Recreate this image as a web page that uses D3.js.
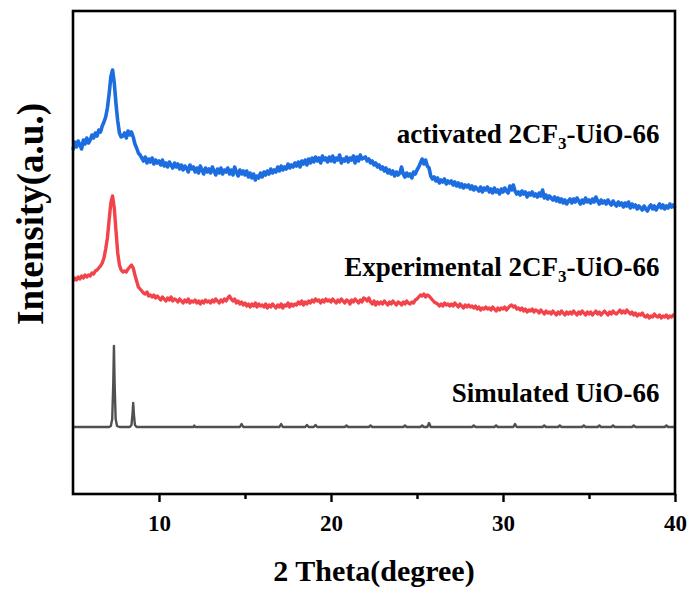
<!DOCTYPE html>
<meta charset="utf-8">
<style>
body { margin: 0; background: #fff; }
text { font-family: "Liberation Serif", "Times New Roman", serif; font-weight: bold; fill: #000; }
.frame { fill: none; stroke: #000; stroke-width: 2.6px; }
.axis path { display: none; }
.axis line { stroke: #000; stroke-width: 2.4px; }
.axis text { font-size: 23px; }
.trace { fill: none; stroke-linejoin: round; }
</style>
<svg width="691" height="590"></svg>
<script src="https://d3js.org/d3.v7.min.js"></script>
<script>
// 2theta grid of the measured patterns: 5 to 40 deg, 0.1 deg step
var twoTheta = d3.range(0, 351).map(function(i) { return +(5 + i * 0.1).toFixed(1); });

// activated 2CF3-UiO-66 (offset intensity, a.u.)
var activated = [
  344,352,347,353,349,345,354,350,356,351,
  354,359,356,361,358,364,362,368,372,377,
  386,400,417,424,411,390,373,361,357,358,
  361,356,363,359,362,357,350,346,341,339,
  336,333,337,331,335,332,336,330,334,331,
  333,329,334,328,331,327,332,329,326,331,
  327,330,325,329,324,328,326,322,329,325,
  327,322,326,321,328,324,320,326,322,325,
  321,327,323,319,325,321,326,320,324,322,
  326,320,324,319,327,322,318,324,320,323,
  319,323,317,321,316,320,314,318,316,321,
  317,322,319,323,320,325,321,324,322,327,
  323,328,324,327,325,330,326,329,327,331,
  328,332,327,333,330,334,329,335,331,336,
  332,337,333,336,331,338,334,336,332,337,
  333,338,332,336,334,339,331,335,333,337,
  332,336,334,338,331,337,333,339,335,336,
  337,333,335,331,333,329,331,327,329,325,
  327,323,326,321,324,320,323,318,322,319,
  321,327,320,317,321,318,320,316,322,320,
  324,327,331,335,330,334,328,326,318,315,
  317,313,316,311,314,312,315,310,313,311,
  313,309,312,308,311,307,310,306,309,307,
  309,305,308,304,307,305,303,307,302,306,
  304,307,302,305,301,306,302,304,300,305,
  302,306,303,301,308,304,309,303,300,302,
  299,303,300,302,297,301,299,302,298,300,
  297,301,298,304,296,299,295,298,296,294,
  297,293,296,292,295,291,294,290,293,295,
  291,295,292,296,293,290,294,291,296,292,
  294,291,295,292,297,293,290,294,291,293,
  290,294,291,289,293,290,288,292,289,291,
  287,291,288,292,286,290,287,289,285,288,
  286,284,288,285,283,287,289,285,288,284,
  287,290,286,289,285,288,286,290,287,289,
  286
];

// Experimental 2CF3-UiO-66
var experimental = [
  213,216,214,217,215,218,216,219,217,219,
  218,221,220,223,224,226,228,231,236,245,
  256,274,291,298,286,263,241,229,224,222,
  223,222,225,227,229,226,219,213,207,205,
  203,201,200,202,198,199,197,199,196,198,
  196,194,197,195,193,196,194,197,193,195,
  194,192,195,193,191,194,192,195,191,193,
  192,194,191,193,190,193,191,194,192,193,
  191,194,192,195,193,191,194,192,195,193,
  196,198,195,193,195,191,193,190,192,189,
  191,188,190,187,190,188,191,187,190,188,
  189,187,190,186,189,187,190,188,186,189,
  187,190,186,189,188,191,187,190,188,190,
  189,192,190,193,189,192,190,193,191,194,
  192,195,193,194,191,194,192,195,193,194,
  192,195,193,191,194,192,195,193,191,194,
  193,190,194,192,195,193,191,194,192,196,
  195,193,196,192,190,193,189,192,190,192,
  190,193,191,189,192,190,193,191,189,192,
  191,189,192,190,193,191,190,192,191,194,
  195,197,199,198,200,197,199,198,196,194,
  192,191,190,188,190,188,191,189,190,188,
  190,188,191,189,187,190,188,186,189,187,
  189,187,188,186,188,185,187,184,186,185,
  187,185,186,184,187,185,183,186,184,186,
  185,187,184,186,188,189,187,188,185,186,
  184,186,183,185,182,184,183,185,182,184,
  183,181,184,182,180,183,181,182,180,183,
  181,179,182,180,183,181,179,182,180,182,
  180,183,181,179,182,180,183,181,179,182,
  180,182,179,181,183,180,182,179,181,183,
  181,179,182,180,183,181,180,182,184,181,
  183,181,184,182,180,182,179,181,178,180,
  179,181,178,177,179,176,178,177,180,178,
  177,179,176,178,177,179,176,178,177,179,
  178
];

// Simulated UiO-66: [2theta, intensity]
var simulated = [
  [5,67],[7.1,67],[7.2,68],[7.28,75],[7.34,110],[7.38,148],[7.42,110],[7.48,75],[7.56,68],[7.7,67],
  [8.3,67],[8.4,69],[8.46,80],[8.5,91],[8.54,80],[8.6,69],[8.7,67],
  [12.0,67],[12.05,68.5],[12.1,67],[14.7,67],[14.8,70],[14.9,67],[17.0,67],[17.1,70],[17.2,67],
  [18.5,67],[18.6,69],[18.7,67],[19.0,67],[19.1,69],[19.2,67],[20.8,67],[20.9,68.5],[21.0,67],
  [22.2,67],[22.3,68.5],[22.4,67],[24.2,67],[24.3,68.5],[24.4,67],[25.2,67],[25.3,68.5],[25.4,67],
  [25.6,67],[25.7,71],[25.8,67],[28.2,67],[28.3,68.5],[28.4,67],[29.5,67],[29.6,68.5],[29.7,67],
  [30.6,67],[30.7,70],[30.8,67],[32.3,67],[32.4,68.5],[32.5,67],[33.2,67],[33.3,68.5],[33.4,67],
  [34.6,67],[34.7,68.5],[34.8,67],[35.5,67],[35.6,68.5],[35.7,67],[36.3,67],[36.4,68.5],[36.5,67],
  [37.5,67],[37.6,68.5],[37.7,67],[39.4,67],[39.5,68.5],[39.6,67],[40,67]
];

var majorTicks = [10, 20, 30, 40];
var minorTicks = [15, 25, 35];

var labels = [
  { name: "activated 2CF", sub: "3", rest: "-UiO-66", y: 351 },
  { name: "Experimental 2CF", sub: "3", rest: "-UiO-66", y: 218 },
  { name: "Simulated UiO-66", sub: "", rest: "", y: 92 }
];

var svg = d3.select("svg");
var plotLeft = 73, plotRight = 675, plotTop = 11, plotBottom = 494;

var x = d3.scaleLinear().domain([5, 40]).range([plotLeft, plotRight]);
var y = d3.scaleLinear().domain([0, 483]).range([plotBottom, plotTop]);

var line = d3.line()
    .x(function(d) { return x(d[0]); })
    .y(function(d) { return y(d[1]); });

function pairs(vals) {
  return vals.map(function(v, i) { return [twoTheta[i], v]; });
}

svg.append("path").attr("class", "trace")
    .attr("d", line(simulated))
    .attr("stroke", "#505050").attr("stroke-width", 2.4);
svg.append("path").attr("class", "trace")
    .attr("d", line(pairs(experimental)))
    .attr("stroke", "#f2424a").attr("stroke-width", 3.4);
svg.append("path").attr("class", "trace")
    .attr("d", line(pairs(activated)))
    .attr("stroke", "#1c6ddf").attr("stroke-width", 3.6);

// frame
svg.append("rect").attr("class", "frame")
    .attr("x", plotLeft).attr("y", plotTop)
    .attr("width", plotRight - plotLeft).attr("height", plotBottom - plotTop);

// x axis
svg.append("g").attr("class", "axis")
    .attr("transform", "translate(0," + plotBottom + ")")
    .call(d3.axisBottom(x).tickValues(majorTicks).tickSize(8).tickPadding(13).tickFormat(d3.format("d")));
svg.append("g").attr("class", "axis")
    .attr("transform", "translate(0," + plotBottom + ")")
    .call(d3.axisBottom(x).tickValues(minorTicks).tickSize(5).tickFormat(""));

// axis titles
svg.append("text")
    .attr("x", (plotLeft + plotRight) / 2).attr("y", 581)
    .attr("text-anchor", "middle")
    .style("font-size", "30px")
    .text("2 Theta(degree)");

svg.append("text")
    .attr("transform", "translate(43,214) rotate(-90)")
    .attr("text-anchor", "middle")
    .style("font-size", "37px")
    .text("Intensity(a.u.)");

// series labels
labels.forEach(function(l) {
  var t = svg.append("text")
      .attr("x", x(39.1)).attr("y", y(l.y))
      .attr("text-anchor", "end")
      .style("font-size", "27px");
  t.append("tspan").text(l.name);
  if (l.sub) {
    t.append("tspan").attr("dy", "6px").style("font-size", "17px").text(l.sub);
    t.append("tspan").attr("dy", "-6px").text(l.rest);
  }
});
</script>
